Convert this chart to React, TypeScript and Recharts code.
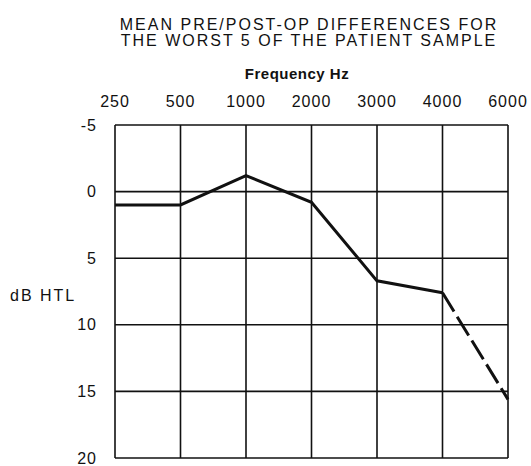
import React from 'react';
import { LineChart, Line, XAxis, YAxis, CartesianGrid } from 'recharts';

const frequencies = ['250', '500', '1000', '2000', '3000', '4000', '6000'];
const meanDifference = [1.0, 1.0, -1.2, 0.8, 6.7, 7.6, 15.6];
const dbTicks = [-5, 0, 5, 10, 15, 20];
// the last segment (4000 -> 6000) is drawn dashed in the original
const dashedFrom = 5;

const chartData = frequencies.map((freq, i) => ({
  freq,
  solid: i <= dashedFrom ? meanDifference[i] : null,
  dashed: i >= dashedFrom ? meanDifference[i] : null
}));

const font = '"Liberation Sans", Arial, sans-serif';
const titleStyle: React.CSSProperties = {
  position: 'absolute', left: 0, width: 618, textAlign: 'center',
  fontSize: 16, lineHeight: '16px', letterSpacing: 2, whiteSpace: 'nowrap'
};
const tickStyle = { fill: '#111', fontSize: 16, fontFamily: font, letterSpacing: 1 };

const App: React.FC = () => {
  return (
    <div style={{ position: 'absolute', left: 0, top: 0, width: 531, height: 466, background: '#fff', fontFamily: font, color: '#111' }}>
      <div style={{ ...titleStyle, top: 17 }}>MEAN PRE/POST-OP DIFFERENCES FOR</div>
      <div style={{ ...titleStyle, top: 33 }}>THE WORST 5 OF THE PATIENT SAMPLE</div>
      <div style={{ position: 'absolute', left: 0, width: 594, top: 65, textAlign: 'center', fontSize: 15, fontWeight: 'bold', letterSpacing: 0.5 }}>
        Frequency Hz
      </div>
      <div style={{ position: 'absolute', left: 10, top: 287, fontSize: 16, letterSpacing: 2 }}>
        dB HTL
      </div>
      <LineChart
        width={531}
        height={466}
        data={chartData}
        margin={{ top: 95, right: 23, bottom: 8, left: 0 }}
      >
        <CartesianGrid stroke="#111" strokeWidth={1.6} />
        <XAxis
          dataKey="freq"
          orientation="top"
          height={30}
          padding={{ left: 0, right: 0 }}
          axisLine={false}
          tickLine={false}
          tickMargin={12}
          tick={tickStyle}
          interval={0}
        />
        <YAxis
          type="number"
          domain={[-5, 20]}
          ticks={dbTicks}
          reversed
          width={115}
          axisLine={false}
          tickLine={false}
          tickMargin={12}
          tick={tickStyle}
          interval={0}
        />
        <Line
          dataKey="solid"
          stroke="#111"
          strokeWidth={3}
          dot={false}
          type="linear"
          isAnimationActive={false}
        />
        <Line
          dataKey="dashed"
          stroke="#111"
          strokeWidth={3}
          strokeDasharray="22 6"
          dot={false}
          type="linear"
          isAnimationActive={false}
        />
      </LineChart>
    </div>
  );
};

export default App;
